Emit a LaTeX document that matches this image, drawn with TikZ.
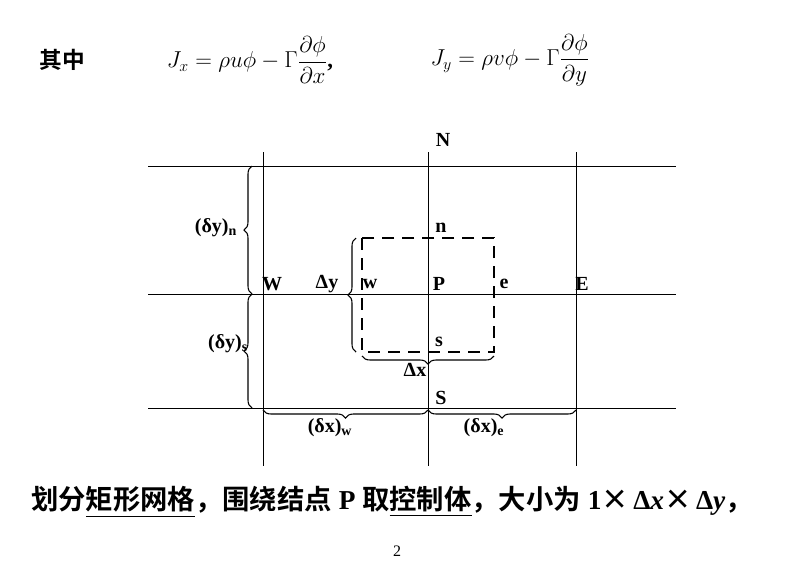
\documentclass[tikz,border=0pt]{standalone}
\usepackage{amsmath}
\usepackage{fontspec}
\setmainfont{Liberation Serif}
\newfontfamily\cjk{Noto Sans CJK SC}[BoldFont={* Bold}]
\usetikzlibrary{decorations.pathreplacing}
\begin{document}
\begin{tikzpicture}[x=0.75pt,y=-0.75pt,
  grid/.style={line width=0.7pt},
  br/.style={decorate,decoration={brace,amplitude=6pt},line width=0.8pt},
  lab/.style={font=\bfseries\fontsize{15}{17}\selectfont,inner sep=0pt}]
\useasboundingbox (0,0) rectangle (792,586);
% grid
\foreach \y/\n in {166/h1,294/h2,408/h3}{\draw[grid] (148,\y) coordinate (\n a) -- (676,\y) coordinate (\n b);}
\foreach \x/\n in {263/v1,428/v2,576/v3}{\draw[grid] (\x,152) coordinate (\n a) -- (\x,466) coordinate (\n b);}
% control volume
\draw[dashed,line width=1.8pt,dash pattern=on 9pt off 6pt] (362,238) coordinate (cv1) rectangle (494,352) coordinate (cv2);
% braces
\draw[br] (252,294) coordinate (b1) -- (252,166) coordinate (b2);
\draw[br] (252,408) coordinate (b3) -- (252,294) coordinate (b4);
\draw[br] (356,352) coordinate (b5) -- (356,238) coordinate (b6);
\draw[br] (494,356) coordinate (b7) -- (362,356) coordinate (b8);
\draw[br] (428,410) coordinate (b9) -- (263,410) coordinate (b10);
\draw[br] (576,410) coordinate (b11) -- (428,410) coordinate (b12);
% labels
\node[lab] (N) at (443,140) {N};
\node[lab] (n) at (441,228) {n};
\node[lab] (W) at (272,284) {W};
\node[lab] (w) at (370,284) {w};
\node[lab] (P) at (439,284) {P};
\node[lab] (e) at (504,284) {e};
\node[lab] (E) at (582,284) {E};
\node[lab] (s) at (439,342) {s};
\node[lab] (S) at (441,398) {S};
\node[lab] (dyn) at (216,228) {(δy)\textsubscript{n}};
\node[lab] (dys) at (228,344) {(δy)\textsubscript{s}};
\node[lab] (Dy) at (327,284) {Δy};
\node[lab] (Dx) at (415,370) {Δx};
\node[lab] (dxw) at (330,428) {(δx)\textsubscript{w}};
\node[lab] (dxe) at (484,428) {(δx)\textsubscript{e}};
% top formula
\node[font=\cjk\bfseries\fontsize{17}{20}\selectfont] (qz) at (62,60) {其中};
\node[font=\fontsize{17}{20}\selectfont] (f1) at (250,60) {$J_x=\rho u\phi-\Gamma\dfrac{\partial\phi}{\partial x}$\textbf{,}};
\node[font=\fontsize{17}{20}\selectfont] (f2) at (510,60) {$J_y=\rho v\phi-\Gamma\dfrac{\partial\phi}{\partial y}$};
% bottom text
\node[font=\fontsize{20.5}{24}\selectfont,inner sep=0pt] (bt) at (392,502) {{\cjk\bfseries 划分\underline{矩形网格}，围绕结点}\textbf{ P }{\cjk\bfseries 取\underline{控制体}，大小为}\textbf{ 1}{\cjk\bfseries ×}\textbf{\,Δ\textit{x}}{\cjk\bfseries ×}\textbf{\,Δ\textit{y}}{\cjk\bfseries ，}};
\node[font=\fontsize{12}{14}\selectfont] (pg) at (397,551) {2};
\end{tikzpicture}
\end{document}
